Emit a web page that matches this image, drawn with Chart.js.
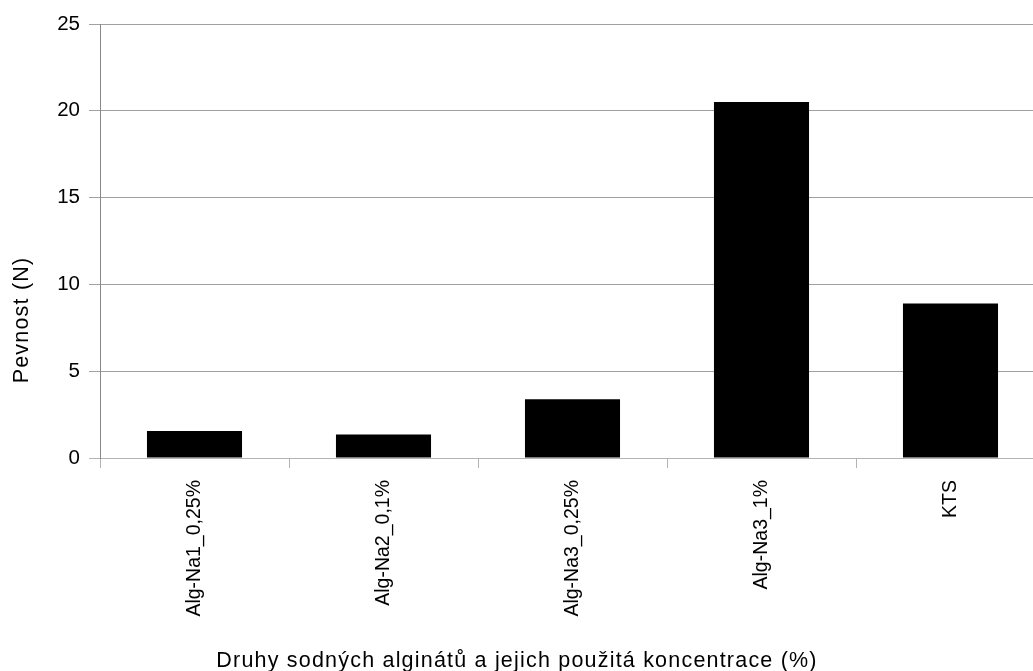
<!DOCTYPE html>
<html>
<head>
<meta charset="utf-8">
<script src="https://cdn.jsdelivr.net/npm/chart.js@4/dist/chart.umd.min.js"></script>
<style>
  html, body { margin: 0; padding: 0; background: #fff; overflow: hidden; }
  #wrap { position: absolute; left: 0; top: 0; width: 1060px; height: 671px; }
</style>
</head>
<body>
<div id="wrap"><canvas id="c" width="1060" height="671"></canvas></div>
<script>
// Strength of sodium alginate samples
const categories = ['Alg-Na1_0,25%', 'Alg-Na2_0,1%', 'Alg-Na3_0,25%', 'Alg-Na3_1%', 'KTS'];
const strength = [1.55, 1.35, 3.38, 20.5, 8.9];
const yTicks = [0, 5, 10, 15, 20, 25];
const xTitle = 'Druhy sodných alginátů a jejich použitá koncentrace (%)';
const yTitle = 'Pevnost (N)';

const FONT = '"Liberation Sans", Arial, sans-serif';

const titles = {
  id: 'axisTitles',
  afterDraw(chart) {
    const ctx = chart.ctx;
    ctx.save();
    ctx.fillStyle = '#000';
    ctx.font = '21.5px ' + FONT;
    ctx.letterSpacing = '1.2px';
    ctx.textAlign = 'center';
    ctx.textBaseline = 'alphabetic';
    ctx.fillText(xTitle, 517, 667);
    ctx.translate(28, 320);
    ctx.rotate(-Math.PI / 2);
    ctx.fillText(yTitle, 0, 0);
    ctx.restore();
  }
};

new Chart(document.getElementById('c'), {
  type: 'bar',
  data: {
    labels: categories,
    datasets: [{
      data: strength,
      backgroundColor: '#000',
      borderWidth: 0,
      categoryPercentage: 1,
      barPercentage: 0.503
    }]
  },
  options: {
    responsive: false,
    animation: false,
    devicePixelRatio: 1,
    layout: { padding: { left: 0, right: 15, top: 24, bottom: 0 } },
    plugins: { legend: { display: false }, tooltip: { enabled: false } },
    scales: {
      x: {
        grid: {
          offset: true,
          drawOnChartArea: false,
          tickLength: 10,
          color: '#b3b3b3'
        },
        border: { color: '#b3b3b3' },
        ticks: {
          color: '#000',
          font: { family: FONT, size: 19.5 },
          minRotation: 90,
          maxRotation: 90,
          padding: 12,
          autoSkip: false
        },
        afterFit(scale) { scale.height = 213; }
      },
      y: {
        min: 0,
        max: 25,
        afterBuildTicks(scale) { scale.ticks = yTicks.map(v => ({ value: v })); },
        grid: {
          tickLength: 11,
          color: ctx => ctx.tick && ctx.tick.value === 0 ? '#b3b3b3' : '#a0a0a0'
        },
        border: { color: '#888' },
        ticks: {
          color: '#000',
          font: { family: FONT, size: 20.5 },
          padding: 9
        },
        afterFit(scale) { scale.width = 100; }
      }
    }
  },
  plugins: [titles]
});
</script>
</body>
</html>
